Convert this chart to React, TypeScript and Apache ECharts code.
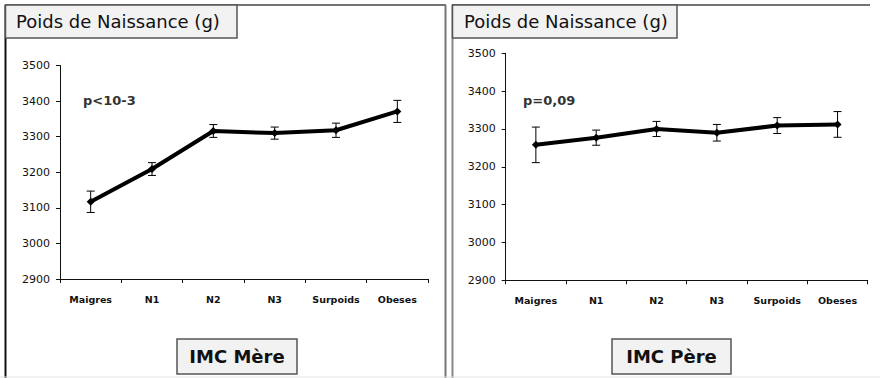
import React, { useEffect, useRef } from "react";
import * as echarts from "echarts";

const categories = ["Maigres", "N1", "N2", "N3", "Surpoids", "Obeses"];
const motherMeans = [3117, 3209, 3316, 3310, 3318, 3371];
const motherErr = [30, 18, 18, 17, 20, 31];
const fatherMeans = [3258, 3277, 3300, 3290, 3309, 3312];
const fatherErr = [47, 20, 20, 22, 21, 34];
const yTicks = { min: 2900, max: 3500, interval: 100 };
const panelTitle = "Poids de Naissance (g)";
const motherLabel = "IMC Mère";
const fatherLabel = "IMC Père";
const motherP = "p<10-3";
const fatherP = "p=0,09";

const FONT = "DejaVu Sans";

function errData(means: number[], errs: number[]) {
  return means.map((m, i) => [i, m - errs[i], m + errs[i]]);
}

const renderErr = (params: any, api: any) => {
  const x = api.value(0);
  const lo = api.coord([x, api.value(1)]);
  const hi = api.coord([x, api.value(2)]);
  const w = 4;
  const st = { stroke: "#000", lineWidth: 1 };
  return {
    type: "group",
    children: [
      { type: "line", shape: { x1: hi[0], y1: hi[1], x2: lo[0], y2: lo[1] }, style: st },
      { type: "line", shape: { x1: hi[0] - w, y1: hi[1], x2: hi[0] + w, y2: hi[1] }, style: st },
      { type: "line", shape: { x1: lo[0] - w, y1: lo[1], x2: lo[0] + w, y2: lo[1] }, style: st },
    ],
  };
};

function makeAxes(gridIndex: number) {
  const xAxis = {
    type: "category",
    gridIndex,
    data: categories,
    boundaryGap: true,
    axisLine: { show: true, lineStyle: { color: "#111", width: 1 } },
    axisTick: { show: true, length: 4, interval: 0, lineStyle: { color: "#111" } },
    axisLabel: { color: "#111", fontSize: 9.5, fontWeight: "bold", fontFamily: FONT, margin: 15, interval: 0, hideOverlap: false },
    splitLine: { show: false },
  };
  const yAxis = {
    type: "value",
    gridIndex,
    min: yTicks.min,
    max: yTicks.max,
    interval: yTicks.interval,
    axisLine: { show: true, lineStyle: { color: "#111", width: 1 } },
    axisTick: { show: true, length: 4, lineStyle: { color: "#111" } },
    axisLabel: { color: "#111", fontSize: 11, fontFamily: FONT, margin: 10, formatter: (v: number) => String(v) },
    splitLine: { show: false },
  };
  return { xAxis, yAxis };
}

function lineSeries(idx: number, means: number[]) {
  return {
    type: "line",
    xAxisIndex: idx,
    yAxisIndex: idx,
    data: means,
    symbol: "diamond",
    symbolSize: 8,
    itemStyle: { color: "#000" },
    lineStyle: { color: "#000", width: 4 },
    z: 3,
  };
}

function errSeries(idx: number, means: number[], errs: number[]) {
  return {
    type: "custom",
    xAxisIndex: idx,
    yAxisIndex: idx,
    data: errData(means, errs),
    encode: { x: 0, y: [1, 2] },
    renderItem: renderErr,
    z: 4,
  };
}

function boxWithText(x: number, y: number, w: number, h: number, text: string, fontSize: number, bold: boolean, tx?: number) {
  return [
    {
      type: "rect",
      shape: { x, y, width: w, height: h },
      style: { fill: "#f2f2f2", stroke: "#555", lineWidth: 1.5 },
      z: 10,
    },
    {
      type: "text",
      x: tx !== undefined ? tx : x + w / 2,
      y: y + h / 2,
      style: {
        text,
        fill: "#111",
        fontSize,
        fontWeight: bold ? "bold" : "normal",
        fontFamily: FONT,
        align: tx !== undefined ? "left" : "center",
        verticalAlign: "middle",
      },
      z: 11,
    },
  ];
}

export default function App() {
  const ref = useRef<HTMLDivElement>(null);
  useEffect(() => {
    if (!ref.current) return;
    const chart = echarts.init(ref.current, undefined, { renderer: "svg" });
    const a0 = makeAxes(0);
    const a1 = makeAxes(1);
    const option: any = {
      animation: false,
      backgroundColor: "#fff",
      grid: [
        { left: 60, right: 452, top: 65.5, bottom: 99, containLabel: false, outerBoundsMode: "none" },
        { left: 505.7, right: 12.3, top: 53.3, bottom: 97.7, containLabel: false, outerBoundsMode: "none" },
      ],
      xAxis: [a0.xAxis, a1.xAxis],
      yAxis: [a0.yAxis, a1.yAxis],
      series: [
        lineSeries(0, motherMeans),
        errSeries(0, motherMeans, motherErr),
        lineSeries(1, fatherMeans),
        errSeries(1, fatherMeans, fatherErr),
      ],
      graphic: [
        { type: "line", shape: { x1: 5.5, y1: 5, x2: 5.5, y2: 378 }, style: { stroke: "#111", lineWidth: 2 }, z: 5 },
        { type: "line", shape: { x1: 5, y1: 5, x2: 446, y2: 5 }, style: { stroke: "#444", lineWidth: 1.5 }, z: 5 },
        { type: "line", shape: { x1: 445.5, y1: 5, x2: 445.5, y2: 378 }, style: { stroke: "#777", lineWidth: 2 }, z: 5 },
        { type: "line", shape: { x1: 452.5, y1: 5, x2: 452.5, y2: 378 }, style: { stroke: "#888", lineWidth: 2 }, z: 5 },
        { type: "line", shape: { x1: 452, y1: 5, x2: 870, y2: 5 }, style: { stroke: "#444", lineWidth: 1.5 }, z: 5 },
        { type: "line", shape: { x1: 0, y1: 377, x2: 880, y2: 377 }, style: { stroke: "#e4e4e4", lineWidth: 1 }, z: 5 },
        ...boxWithText(5.5, 5, 231.5, 33, panelTitle, 18, false, 16),
        ...boxWithText(452.5, 5, 224.5, 33, panelTitle, 18, false, 464),
        ...boxWithText(177, 339, 120, 35, motherLabel, 18, true),
        ...boxWithText(612, 339, 119, 35, fatherLabel, 18, true),
        {
          type: "text",
          x: 83,
          y: 100,
          style: { text: motherP, fill: "#333", fontSize: 13, fontWeight: "bold", fontFamily: FONT, align: "left", verticalAlign: "middle" },
          z: 11,
        },
        {
          type: "text",
          x: 523,
          y: 100,
          style: { text: fatherP, fill: "#333", fontSize: 13, fontWeight: "bold", fontFamily: FONT, align: "left", verticalAlign: "middle" },
          z: 11,
        },
      ],
    };
    chart.setOption(option);
    return () => chart.dispose();
  }, []);
  return <div ref={ref} style={{ position: "absolute", left: 0, top: 0, width: 880, height: 378 }} />;
}
